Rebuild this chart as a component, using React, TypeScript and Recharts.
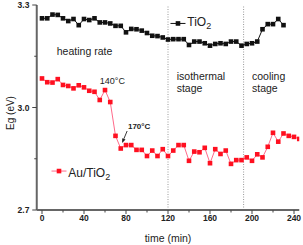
import React from 'react';
import { LineChart, Line, XAxis, YAxis, ReferenceLine, ReferenceDot } from 'recharts';

const FONT = "'Liberation Sans', Arial, Helvetica, sans-serif";

const TIME_TIO2 = [0, 5, 10, 15, 20, 25, 30, 35, 40, 45, 50, 55, 60, 65, 70, 75, 80, 85, 90, 95, 100, 105, 110, 115, 120, 125, 130, 135, 140, 145, 150, 155, 160, 165, 170, 175, 180, 185, 190, 195, 200, 205, 210, 215, 220, 225, 230];
const EG_TIO2 = [3.261, 3.261, 3.272, 3.271, 3.261, 3.253, 3.259, 3.241, 3.259, 3.256, 3.261, 3.249, 3.249, 3.246, 3.239, 3.239, 3.220, 3.230, 3.229, 3.225, 3.218, 3.210, 3.209, 3.205, 3.199, 3.200, 3.200, 3.200, 3.183, 3.193, 3.193, 3.188, 3.181, 3.186, 3.188, 3.186, 3.193, 3.193, 3.181, 3.186, 3.188, 3.193, 3.229, 3.244, 3.244, 3.259, 3.241];

const TIME_AU = [0, 5, 10, 15, 20, 25, 30, 35, 40, 45, 50, 55, 60, 65, 70, 75, 80, 85, 90, 95, 100, 105, 110, 115, 120, 125, 130, 135, 140, 145, 150, 155, 160, 165, 170, 175, 180, 185, 190, 195, 200, 205, 210, 215, 220, 225, 230, 235, 240, 245];
const EG_AU = [3.085, 3.074, 3.073, 3.083, 3.066, 3.063, 3.056, 3.065, 3.059, 3.049, 3.046, 3.022, 3.051, 3.016, 2.917, 2.880, 2.890, 2.890, 2.876, 2.876, 2.858, 2.874, 2.858, 2.878, 2.858, 2.874, 2.890, 2.890, 2.844, 2.871, 2.869, 2.882, 2.837, 2.878, 2.864, 2.874, 2.835, 2.846, 2.846, 2.854, 2.844, 2.863, 2.854, 2.885, 2.926, 2.900, 2.924, 2.917, 2.914, 2.908];

const X_DOMAIN = [-5, 245];
const Y_DOMAIN = [2.7, 3.3];
const X_TICKS = [0, 20, 40, 60, 80, 100, 120, 140, 160, 180, 200, 220, 240];
const X_MAJOR = [0, 40, 80, 120, 160, 200, 240];
const Y_TICKS = [2.7, 2.85, 3.0, 3.15, 3.3];
const Y_MAJOR = [2.7, 3.0, 3.3];
const TOP_TICKS = [20, 45, 70, 95, 120, 145, 170, 195, 220];
const TOP_LONG = [45, 95, 145, 195];
const STAGE_LINES = [120, 192];

const tio2Data = TIME_TIO2.map((t, i) => ({ t, v: EG_TIO2[i] }));
const auData = TIME_AU.map((t, i) => ({ t, v: EG_AU[i] }));

const BLACK = '#111';
const RED = '#ff1020';
const PINK = '#ff6a8a';
const TXT = '#222';

const BottomTick = (props: any) => {
  const { x, y, payload } = props;
  const v = payload.value;
  const major = X_MAJOR.includes(v);
  return (
    <g>
      <line x1={x} x2={x} y1={y} y2={y + (major ? 4 : 2.5)} stroke="#444" strokeWidth={1} />
      {major && (
        <text x={x} y={y + 5} dy="0.71em" textAnchor="middle" fontSize={8.5} fontWeight="bold" fill={TXT} fontFamily={FONT}>
          {v}
        </text>
      )}
    </g>
  );
};

const LeftTick = (props: any) => {
  const { x, y, payload } = props;
  const v = payload.value;
  const major = Y_MAJOR.includes(v);
  return (
    <g>
      <line x1={x} x2={x - (major ? 4.5 : 2.5)} y1={y} y2={y} stroke="#444" strokeWidth={1} />
      {major && (
        <text x={x - 7.3} y={y} dy="0.355em" textAnchor="end" fontSize={8.5} fontWeight="bold" fill={TXT} fontFamily={FONT}>
          {Number(v).toFixed(1)}
        </text>
      )}
    </g>
  );
};

const TopTick = (props: any) => {
  const { x, y, payload } = props;
  const long = TOP_LONG.includes(payload.value);
  return <line x1={x} x2={x} y1={y} y2={y + (long ? 4 : 2.5)} stroke="#333" strokeWidth={1} />;
};

const YTitle = (props: any) => {
  const vb = props.viewBox || { x: 0, y: 5, width: 36.75, height: 205 };
  const cx = vb.x + 10;
  const cy = vb.y + vb.height / 2 + 5.5;
  return (
    <text x={cx} y={cy} transform={`rotate(-90 ${cx} ${cy})`} textAnchor="middle" dominantBaseline="central" fontSize={10} fill={TXT} fontFamily={FONT}>
      Eg (eV)
    </text>
  );
};

const square = (fill: string) => (p: any) => (
  <rect key={`sq-${fill}-${p.index}`} x={p.cx - 2.3} y={p.cy - 2.3} width={4.6} height={4.6} fill={fill} />
);

const textShape = (label: string, size: number, anchor: string, weight = 'normal') => (p: any) => (
  <text x={p.cx} y={p.cy} textAnchor={anchor} fontSize={size} fontWeight={weight} fill={TXT} fontFamily={FONT}>
    {label}
  </text>
);

const twoLineShape = (l1: string, l2: string) => (p: any) => (
  <text x={p.cx} y={p.cy} fontSize={10.5} fill={TXT} fontFamily={FONT}>
    <tspan x={p.cx} dy={0}>{l1}</tspan>
    <tspan x={p.cx} dy={11.5}>{l2}</tspan>
  </text>
);

const annotation170 = (p: any) => {
  const x1 = p.cx - 12;
  const y1 = p.cy + 2.5;
  const x2 = p.cx - 17;
  const y2 = p.cy + 14.5;
  const dx = x2 - x1;
  const dy = y2 - y1;
  const len = Math.sqrt(dx * dx + dy * dy);
  const ux = dx / len;
  const uy = dy / len;
  const bx = x2 - ux * 4.5;
  const by = y2 - uy * 4.5;
  const px = -uy * 1.8;
  const py = ux * 1.8;
  return (
    <g>
      <text x={p.cx} y={p.cy} textAnchor="middle" fontSize={8} fontWeight="bold" fill={TXT} fontFamily={FONT}>
        170°C
      </text>
      <line x1={x1} y1={y1} x2={bx} y2={by} stroke="#222" strokeWidth={0.9} />
      <polygon points={`${x2},${y2} ${bx + px},${by + py} ${bx - px},${by - py}`} fill="#222" />
    </g>
  );
};

const legendShape = (color: string, lineColor: string, name: string, sub: string, textDy: number) => (p: any) => (
  <g>
    <line x1={p.cx - 7.5} x2={p.cx + 7.5} y1={p.cy} y2={p.cy} stroke={lineColor} strokeWidth={1} />
    <rect x={p.cx - 2.3} y={p.cy - 2.3} width={4.6} height={4.6} fill={color} />
    <text x={p.cx + 9.3} y={p.cy + textDy} fontSize={12} fill={TXT} fontFamily={FONT}>
      {name}
      <tspan fontSize={9} dy={3}>{sub}</tspan>
    </text>
  </g>
);

export default function App() {
  return (
    <div style={{ position: 'absolute', left: 0, top: 0, width: 303, height: 245, background: '#fff' }}>
      <LineChart width={303} height={245} margin={{ top: 5, right: 3.75, bottom: 0, left: 0 }}>
        <XAxis
          dataKey="t"
          type="number"
          domain={X_DOMAIN}
          ticks={X_TICKS}
          interval={0}
          tickSize={0}
          tickMargin={0}
          tickLine={false}
          tick={<BottomTick />}
          height={35}
          allowDataOverflow
          axisLine={{ stroke: '#666', strokeWidth: 2 }}
          label={{ value: 'time (min)', position: 'insideBottom', offset: 3, fontSize: 10.5, fill: TXT, fontFamily: FONT }}
        />
        <XAxis
          xAxisId="top"
          orientation="top"
          dataKey="t"
          type="number"
          domain={X_DOMAIN}
          ticks={TOP_TICKS}
          interval={0}
          tickSize={0}
          tickMargin={0}
          tickLine={false}
          tick={<TopTick />}
          height={0}
          allowDataOverflow
          axisLine={{ stroke: '#222', strokeWidth: 1 }}
        />
        <YAxis
          type="number"
          domain={Y_DOMAIN}
          ticks={Y_TICKS}
          interval={0}
          tickSize={0}
          tickMargin={0}
          tickLine={false}
          tick={<LeftTick />}
          width={36.75}
          allowDataOverflow
          axisLine={{ stroke: '#666', strokeWidth: 2 }}
          label={<YTitle />}
        />
        <YAxis
          yAxisId="right"
          orientation="right"
          type="number"
          domain={Y_DOMAIN}
          width={0}
          tick={false}
          tickLine={false}
          axisLine={{ stroke: '#222', strokeWidth: 1 }}
        />
        {STAGE_LINES.map((x) => (
          <ReferenceLine key={`rl-${x}`} x={x} stroke="#999" strokeWidth={1} strokeDasharray="1 1.5" />
        ))}
        <Line
          data={tio2Data}
          dataKey="v"
          stroke={BLACK}
          strokeWidth={1}
          dot={square(BLACK)}
          activeDot={false}
          isAnimationActive={false}
        />
        <Line
          data={auData}
          dataKey="v"
          stroke={PINK}
          strokeWidth={1}
          dot={square(RED)}
          activeDot={false}
          isAnimationActive={false}
        />
        <ReferenceDot x={40.5} y={3.155} r={0} shape={textShape('heating rate', 10.5, 'middle')} />
        <ReferenceDot x={67} y={3.07} r={0} shape={textShape('140°C', 9, 'middle')} />
        <ReferenceDot x={92.5} y={2.9385} r={0} shape={annotation170} />
        <ReferenceDot x={128.3} y={3.08} r={0} shape={twoLineShape('isothermal', 'stage')} />
        <ReferenceDot x={200} y={3.08} r={0} shape={twoLineShape('cooling', 'stage')} />
        <ReferenceDot x={129.5} y={3.246} r={0} shape={legendShape(BLACK, BLACK, 'TiO', '2', 2.7)} />
        <ReferenceDot x={16.2} y={2.814} r={0} shape={legendShape(RED, PINK, 'Au/TiO', '2', 5.5)} />
      </LineChart>
    </div>
  );
}
